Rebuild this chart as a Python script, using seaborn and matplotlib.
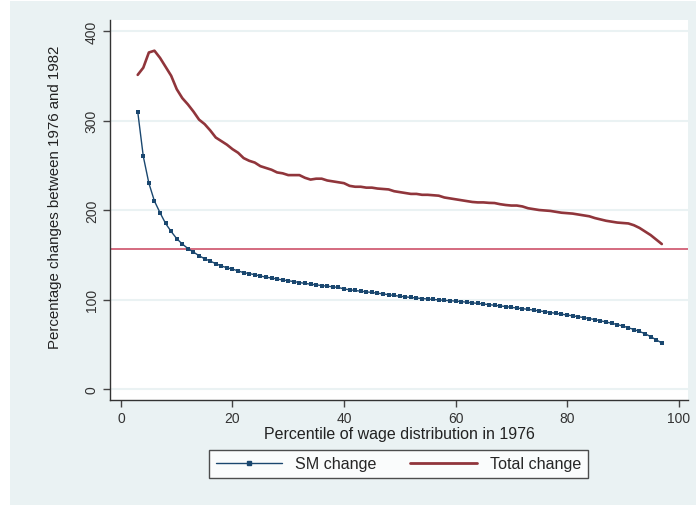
import numpy as np
import pandas as pd
import matplotlib
matplotlib.use("Agg")
import matplotlib.pyplot as plt
from matplotlib.lines import Line2D
from matplotlib.patches import Rectangle
import seaborn as sns

percentile = list(range(3, 98))

sm_change = [310, 260, 230, 210, 197, 185, 176, 168, 162, 157,
             153, 149, 145.5, 143, 140, 137.5, 135.5, 134, 132, 130,
             129, 127.7, 126.3, 125, 124, 123, 121.8, 121, 120, 119,
             118, 117.2, 116.4, 115.6, 114.9, 114.2, 113.5, 111.8, 110.9,
             110.1, 109.3, 108.6, 107.9, 107.1, 106.3, 105.4, 104.5, 103.7, 103,
             102.3, 101.7, 101.1, 100.6, 100.1, 99.6, 99.1, 98.7, 98.3, 97.7,
             97, 96.3, 95.7, 95, 94.3, 93.6, 92.9, 92.1, 91.3, 90.5,
             89.8, 89, 88.2, 87.3, 86.4, 85.5, 84.6, 83.7, 82.7, 81.8,
             80.8, 79.8, 78.7, 77.5, 76.2, 74.9, 73.5, 72, 70.4, 68.5,
             66.5, 64.3, 61.8, 58.5, 55, 51.4]

total_change = [351, 359, 376, 378, 370, 360, 350, 335, 325, 318,
                310, 301, 296, 289, 281, 277, 273, 268, 264, 258,
                255, 253, 249, 247, 245, 242, 241, 239, 239, 239,
                236, 234, 235, 235, 233, 232, 231, 230, 227, 226,
                226, 225, 225, 224, 223.5, 223, 221, 220, 219, 218,
                218, 217, 217, 216.5, 216, 214, 213, 212, 211, 210,
                209, 208.5, 208.5, 208, 207.8, 206.5, 205.6, 205, 205, 204,
                202, 201, 200, 199.5, 199, 198, 197, 196.5, 196, 195,
                194, 193, 191, 189.5, 188, 187, 186, 185.5, 185, 183,
                180, 176, 172, 167, 162]

mean_total = 157

y_ticks = [0, 100, 200, 300, 400]
x_ticks = [0, 20, 40, 60, 80, 100]
series_labels = ["SM change", "Total change"]

df = pd.DataFrame({"percentile": percentile, "sm": sm_change, "total": total_change})

navy = "#1a476f"
maroon = "#90353b"
bg = "#eaf2f3"
hcol = "#c9435c"

sns.set_style("white")
plt.rcParams["font.family"] = ["Liberation Sans", "DejaVu Sans"]

fig = plt.figure(figsize=(6.96, 5.06), dpi=100)
fig.patch.set_facecolor("white")
fig.patches.append(Rectangle((10 / 696, 0), 1 - 10 / 696, 1 - 2 / 506,
                             transform=fig.transFigure, facecolor=bg,
                             edgecolor="none", zorder=-10))

ax = fig.add_axes([110 / 696, (506 - 400.5) / 506, (688 - 110) / 696, (400.5 - 21) / 506])
ax.set_facecolor("white")

for t in y_ticks:
    ax.axhline(t, color=bg, lw=1.5, zorder=0)

sns.lineplot(data=df, x="percentile", y="total", ax=ax, color=maroon, lw=1.9, zorder=3)
sns.lineplot(data=df, x="percentile", y="sm", ax=ax, color=navy, lw=1.0,
             marker="s", markersize=3.2, markeredgewidth=0, zorder=4)
ax.axhline(mean_total, color=hcol, lw=1.1, zorder=2)

ax.set_xlim(-1.97, 101.7)
ax.set_ylim(-11.7, 412.3)
ax.set_xticks(x_ticks)
ax.set_yticks(y_ticks)
ax.set_xticklabels([str(v) for v in x_ticks], fontsize=10, color="#333333")
ax.set_yticklabels([str(v) for v in y_ticks], fontsize=10, color="#333333",
                   rotation=90, va="center")
ax.tick_params(axis="both", direction="out", length=5, width=1, color="#444444", pad=3,
               left=True, bottom=True)

for s in ["top", "right"]:
    ax.spines[s].set_visible(False)
for s in ["left", "bottom"]:
    ax.spines[s].set_color("#333333")
    ax.spines[s].set_linewidth(1.0)

ax.set_xlabel("Percentile of wage distribution in 1976", fontsize=11.5, color="#222222", labelpad=1)
ax.set_ylabel("Percentage changes between 1976 and 1982", fontsize=10.8, color="#222222")
ax.yaxis.label.set_va("center")
ax.yaxis.set_label_coords(-0.095, 0.536)

h0 = Line2D([0, 0.5, 1], [0, 0, 0], color=navy, lw=1.0, marker="s", markersize=3, markevery=[1])
h1 = Line2D([0], [0], color=maroon, lw=2.0)
leg = fig.legend([h0, h1], series_labels, loc="center",
                 bbox_to_anchor=(398.5 / 696, 1 - 465 / 506), ncol=2,
                 frameon=True, fancybox=False, edgecolor="#222222",
                 fontsize=11.6, handlelength=4.1, columnspacing=2.1,
                 handletextpad=0.85, borderpad=0.42, borderaxespad=0)
leg.get_frame().set_linewidth(1.0)
leg.get_frame().set_facecolor("white")

fig.savefig("out.png", dpi=100, facecolor=fig.get_facecolor())
